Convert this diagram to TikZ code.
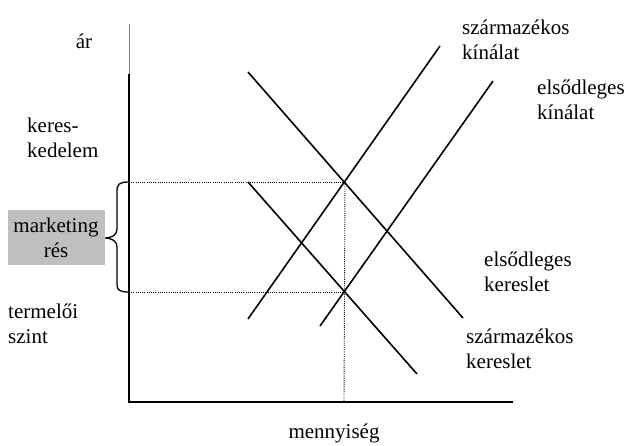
\documentclass[tikz,border=0pt]{standalone}
\usepackage{fontspec}
\setmainfont{Liberation Serif}
\begin{document}
\begin{tikzpicture}[x=1pt,y=-1pt,
  curve/.style={line width=1.6pt},
  axisline/.style={line width=1.6pt},
  guide/.style={line width=0.9pt,dash pattern=on 1pt off 1.2pt},
  lbl/.style={inner sep=0pt,align=left,font=\fontsize{21}{25}\selectfont},
  lblc/.style={inner sep=0pt,align=center,font=\fontsize{21}{25}\selectfont}]
\useasboundingbox (0,0) rectangle (627,445);

% axes
\coordinate (top) at (129,24);
\coordinate (ytop) at (129,74);
\coordinate (origin) at (129,402);
\coordinate (xend) at (513,402);
\draw[gray,line width=0.6pt] (top) -- (ytop);
\draw[axisline] (ytop) -- (origin) -- (xend);

% equilibrium points
\coordinate (E1) at (345,182);
\coordinate (E2) at (344,292);
\coordinate (E1y) at (129,182);
\coordinate (E2y) at (129,292);
\coordinate (Qx) at (344,402);

% guide lines
\draw[guide] (E1y) -- (E1);
\draw[guide] (E2y) -- (E2);
\draw[guide] (E1) -- (Qx);

% demand and supply curves
\coordinate (pdA) at (248,72);  \coordinate (pdB) at (463,318);
\coordinate (sdA) at (248,182); \coordinate (sdB) at (417,374);
\coordinate (ssA) at (440,46);  \coordinate (ssB) at (248,319);
\coordinate (psA) at (493,81);  \coordinate (psB) at (320,326);
\draw[curve] (pdA) -- (pdB);
\draw[curve] (sdA) -- (sdB);
\draw[curve] (ssA) -- (ssB);
\draw[curve] (psA) -- (psB);

% brace for the marketing gap
\draw[line width=1.3pt] (E1y) .. controls (119,182) and (117,184) .. (117,192)
  -- (117,229) .. controls (117,235) and (112,238) .. (104,238)
  .. controls (112,238) and (117,241) .. (117,247)
  -- (117,284) .. controls (117,290) and (119,292) .. (E2y);

% shaded label box
\fill[black!25] (8,210) rectangle (105,265);
\node[lblc] (gap) at (56,238) {marketing\\rés};

% axis and level labels
\node[lblc] (price) at (84,41) {ár};
\node[lbl,anchor=west] (trade) at (27,138) {keres-\\kedelem};
\node[lbl,anchor=west] (producer) at (8,324) {termelői\\szint};
\node[lblc] (qty) at (334,433) {mennyiség};

% curve labels
\node[lbl,anchor=west] (lss) at (462,40) {származékos\\kínálat};
\node[lbl,anchor=west] (lps) at (537,100) {elsődleges\\kínálat};
\node[lbl,anchor=west] (lpd) at (484,272) {elsődleges\\kereslet};
\node[lbl,anchor=west] (lsd) at (466,349) {származékos\\kereslet};
\end{tikzpicture}
\end{document}
